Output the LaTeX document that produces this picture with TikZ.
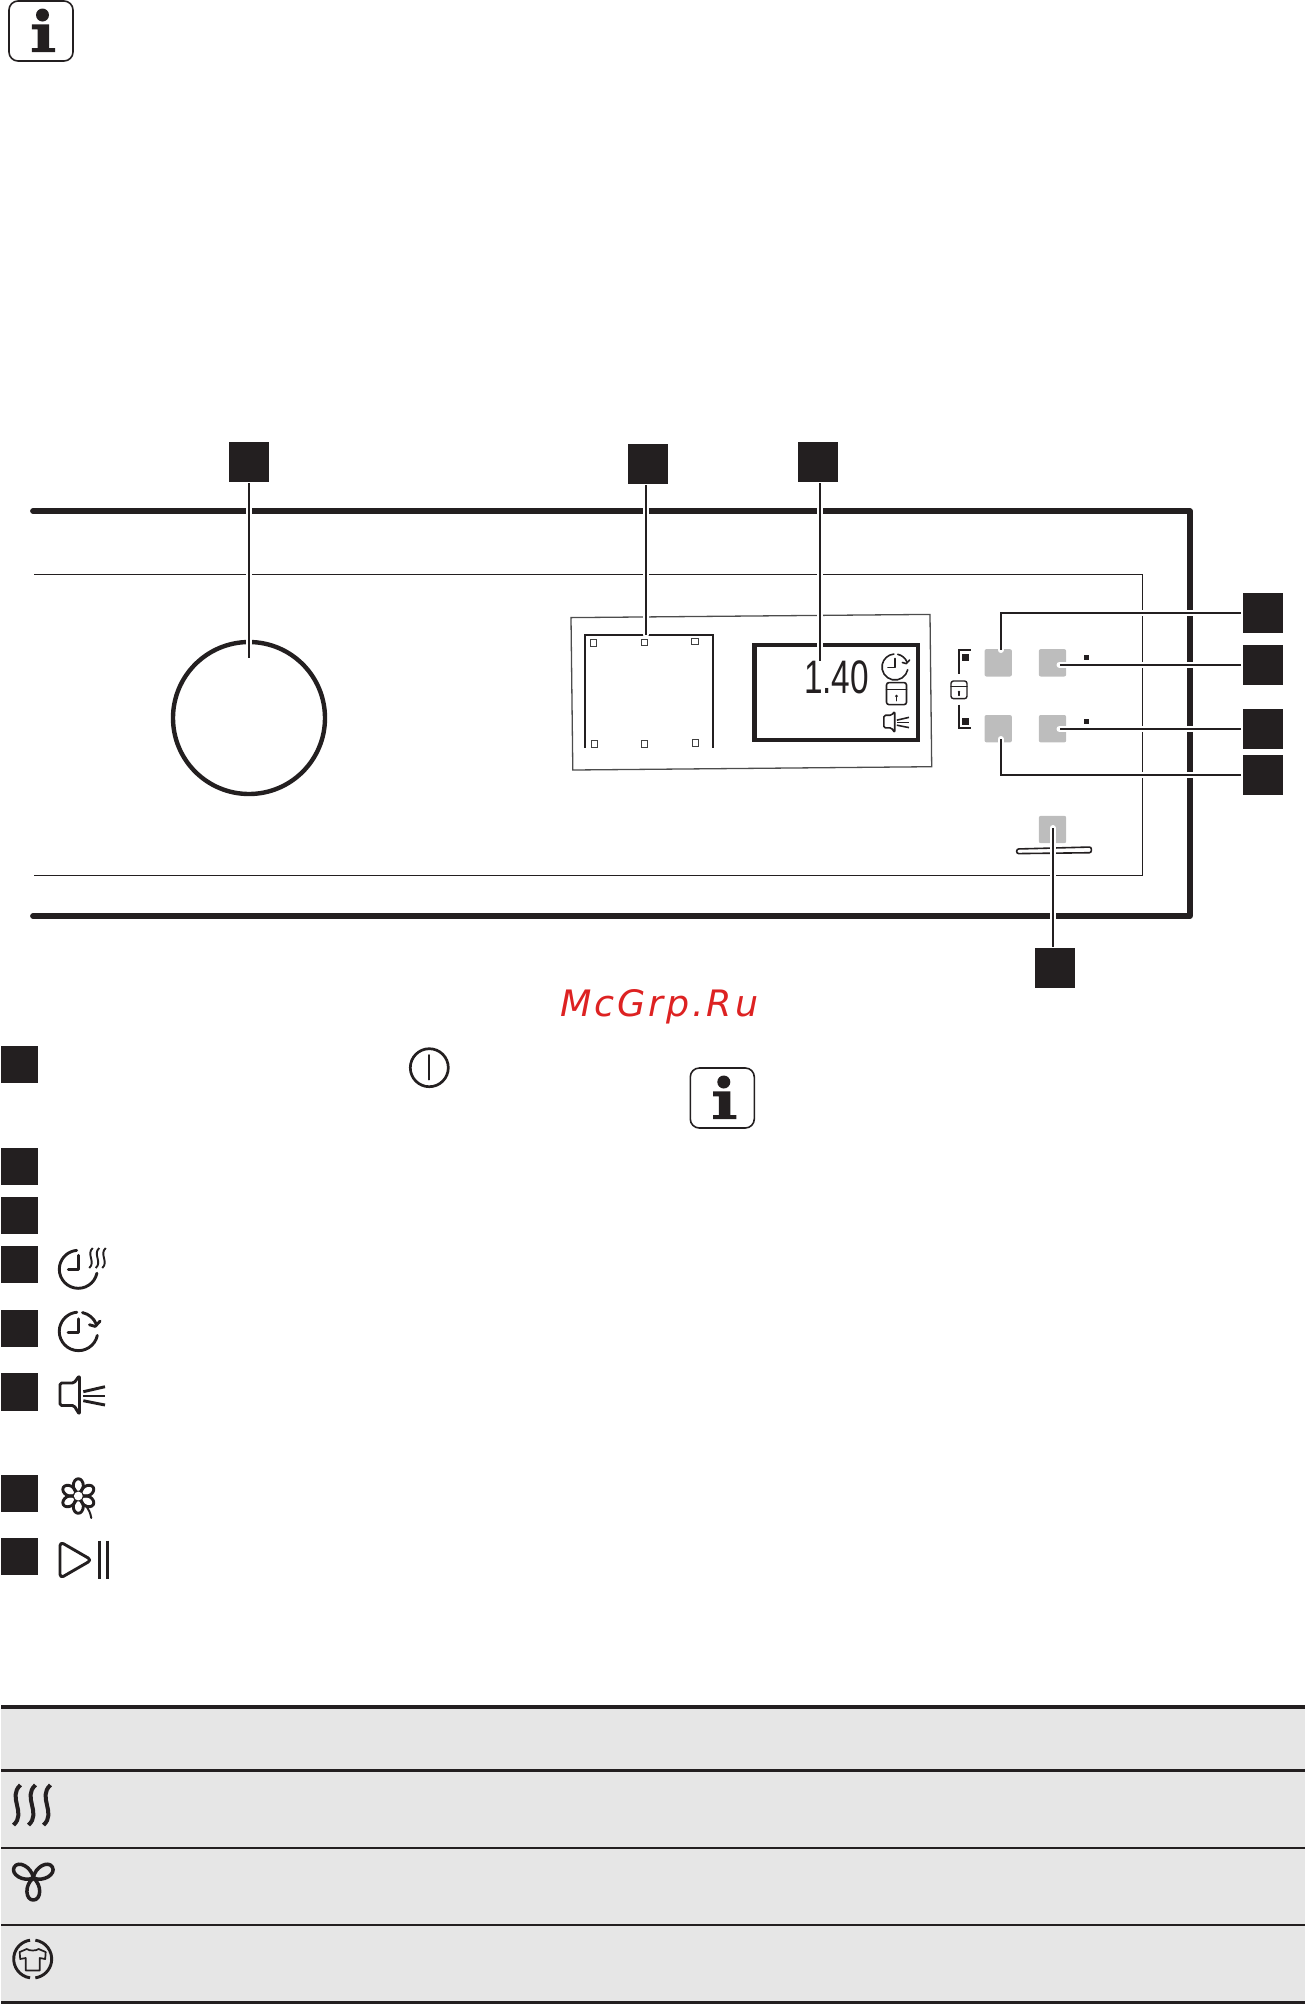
\documentclass[tikz,border=0pt]{standalone}
\usepackage{graphicx}
\usepackage{fontspec}
\newfontfamily\markfont[LetterSpace=8]{DejaVu Sans}
\newfontfamily\lcdfont{Liberation Sans}
\usetikzlibrary{positioning}
\definecolor{inkblack}{HTML}{231F20}
\definecolor{btngray}{HTML}{BDBDBD}
\definecolor{rowgray}{HTML}{E6E6E6}
\definecolor{markred}{HTML}{DD2222}
\tikzset{
  callout/.style={fill=inkblack, minimum size=20pt, inner sep=0pt},
  listbox/.style={fill=inkblack, minimum width=18.5pt, minimum height=18.6pt, inner sep=0pt},
  btn/.style={fill=btngray, minimum width=13.7pt, minimum height=13.7pt, inner sep=0pt, rounded corners=1pt},
  leader/.style={draw=inkblack, line width=1pt,
    preaction={draw=white, line width=3pt, line cap=round, shorten <=1.5pt}},
  iconline/.style={draw=inkblack, line cap=round, line join=round},
  infoicon/.pic={
    \draw[inkblack, line width=.8pt, rounded corners=4.5pt] (-32,-30) rectangle (32,30);
    \fill[inkblack] (1.5,-16) circle (6.5);
    \fill[inkblack] (-9.2,-6.7) -- (8,-6.7) -- (8,17) -- (14,17) -- (14,21) -- (-9.2,21) -- (-9.2,17) -- (-3.5,17) -- (-3.5,-1.7) -- (-9.2,-1.7) -- cycle;
  },
  lockicon/.pic={
    \draw[iconline, rounded corners=1.2] (-10,-11) rectangle (10,11);
    \draw[iconline] (-10,-4) -- (10,-4);
    \fill[inkblack] (0,2.5) circle (1.6);
    \draw[iconline] (0,2.5) -- (0,7);
  },
  clockicon/.pic={
    \draw[iconline] (12:13) arc[start angle=12, end angle=265, radius=13];
    \draw[iconline] (-78:13) arc[start angle=-78, end angle=-22, radius=13];
    \draw[iconline] (7.4,-4.5) -- (11.3,-3.4) -- (14.6,-7);
    \draw[iconline] (0,-8.5) -- (0,0.5) -- (-7,0.5);
  },
  speakericon/.pic={
    \draw[iconline, rounded corners=.8] (-20,-12) -- (-6,-12) -- (-.5,-19.5) -- (-.5,19.5) -- (-6,10.5) -- (-20,10.5) -- cycle;
    \draw[iconline, line cap=butt] (3.3,-3.3) -- (25,-8.3);
    \draw[iconline, line cap=butt] (3.3,1) -- (25,1);
    \draw[iconline, line cap=butt] (3.3,5.7) -- (25,10);
  },
  heatwave/.pic={
    \draw[iconline, line cap=butt] (3.5,-20) .. controls (-10,-8) and (10,8) .. (-3.5,20);
  }
}
\begin{document}
\begin{tikzpicture}[x=.5pt, y=-.5pt, >=latex, line width=1.45pt]
  \useasboundingbox (0,0) rectangle (1305,2004);
  \pic at (41,31) {infoicon};

  % panel
  \draw[inkblack, line width=2.9pt, line cap=round, line join=round] (33,511) -- (1189.7,511) -- (1189.7,916) -- (33,916);
  \draw[inkblack, line width=.65pt] (34,574.3) -- (1142.7,574.3) -- (1142.7,875.5) -- (34,875.5);
  \draw[inkblack, line width=2.2pt] (249,718) circle (76);

  % display
  \draw[black!70, line width=.65pt] (571,617.6) -- (930,614.4) -- (931.7,766.7) -- (572.8,770) -- cycle;
  \draw[inkblack, line width=1pt] (585,747.5) -- (585,634.7) -- (712.6,634.7) -- (712.6,747.5);
  \foreach \sx/\sy in {593.3/643, 644.2/642.4, 695/641.6, 594.3/744, 644.6/743.8, 695.5/743}
    \draw[black!75, line width=.5pt] (\sx-3.2,\sy-3.2) rectangle (\sx+3.2,\sy+3.2);
  \draw[inkblack, line width=2.4pt] (754.7,645) rectangle (918,740);
  \node[anchor=base east, inner sep=0pt, inkblack] (readout) at (870.5,693.5) {\scalebox{.71}[1]{\lcdfont\fontsize{23.5}{23.5}\selectfont 1.40}};
  \pic[line width=.8pt] at (895,667) {clockicon};
  \pic[line width=.8pt] at (896.5,693.6) {lockicon};
  \pic[scale=.56, line width=.8pt] at (895,722) {speakericon};

  % buttons
  \node[btn] (btnA) at (998.2,662.8) {};
  \node[btn] (btnB) at (1052.5,662.8) {};
  \node[btn] (btnC) at (998.2,728.7) {};
  \node[btn] (btnD) at (1052.5,728.7) {};
  \node[btn] (btnE) at (1052.5,829.5) {};
  \draw[iconline, line cap=butt, line join=miter, line width=1pt] (970.8,650.4) -- (958.6,650.4) -- (958.6,673.6);
  \draw[iconline, line cap=butt, line join=miter, line width=1pt] (958.6,704.5) -- (958.6,728) -- (970.8,728);
  \fill[inkblack] (962.2,654) rectangle (968.6,660.6);
  \fill[inkblack] (962.2,718.4) rectangle (968.6,725);
  \pic[scale=.8, line width=.7pt] at (959,689.8) {lockicon};
  \fill[inkblack] (1084,654.8) rectangle (1088.8,659.8);
  \fill[inkblack] (1084,718.8) rectangle (1088.8,723.8);
  \draw[inkblack, line width=.8pt, rounded corners=1pt] (1016.7,849) -- (1091.3,847) -- (1091.3,852.7) -- (1016.7,853.6) -- cycle;

  % callouts
  \node[callout] (calloutA) at (249,462) {};
  \node[callout] (calloutB) at (648,464) {};
  \node[callout] (calloutC) at (817.7,462) {};
  \node[callout] (calloutD) at (1262.5,613) {};
  \node[callout] (calloutE) at (1262.5,664.7) {};
  \node[callout] (calloutF) at (1262.5,729) {};
  \node[callout] (calloutG) at (1262.5,775) {};
  \node[callout] (calloutH) at (1054.7,968) {};
  \coordinate (tipA) at (249,658);
  \coordinate (tipB) at (645.6,634.7);
  \coordinate (tipC) at (819.7,661);
  \coordinate (tipD) at (1000.7,650);
  \coordinate (tipE) at (1059.5,664.7);
  \coordinate (tipF) at (1059.5,729);
  \coordinate (tipG) at (1000.7,739);
  \coordinate (tipH) at (1052.7,828);
  \draw[leader] (calloutA.south) -- (tipA);
  \draw[leader] (calloutB.south -| tipB) -- (tipB);
  \draw[leader] (calloutC.south -| tipC) -- (tipC);
  \draw[leader] (calloutD.west) -| (tipD);
  \draw[leader] (calloutE.west) -- (tipE);
  \draw[leader] (calloutF.west) -- (tipF);
  \draw[leader] (calloutG.west) -| (tipG);
  \draw[leader] (calloutH.north -| tipH) -- (tipH);

  \node[anchor=base west, inner sep=0pt, markred] (mark) at (558.7,1016.4) {\markfont\itshape\fontsize{18.2}{18.2}\selectfont McGrp.Ru};

  % legend
  \foreach \ly/\lname in {1064.4/listA, 1166.4/listB, 1215.4/listC, 1264.8/listD, 1328.4/listE, 1392/listF, 1493.3/listG, 1556.6/listH}
    \node[listbox] (\lname) at (19.8,\ly) {};
  \draw[iconline, line width=1.35pt] (429.3,1067.7) circle (19);
  \draw[iconline, line width=.85pt] (429.3,1055) -- (429.3,1079.6);
  \pic at (722.3,1098) {infoicon};

  \begin{scope}[shift={(78.3,1269.3)}]
    \draw[iconline] (12:19) arc[start angle=12, end angle=265, radius=19];
    \draw[iconline] (0,-14) -- (0,0) -- (-10,0);
  \end{scope}
  \foreach \wx in {91,97.5,104}
    \pic[scale=.5, line width=.95pt] at (\wx,1258) {heatwave};
  \pic[scale=1.48] at (78.5,1331.4) {clockicon};
  \pic at (80,1395) {speakericon};
  \begin{scope}[shift={(78.3,1496)}]
    \foreach \pa in {30,90,150,210,270,330}
      \draw[iconline, rotate=\pa] (10.5,0) ellipse (6.8 and 5);
    \fill[white] (0,0) circle (4.4);
    \draw[iconline, line width=1pt] (7,9) .. controls (11,14) and (12,17) .. (13,22);
  \end{scope}
  \draw[iconline, rounded corners=2] (60,1541.7) -- (91.7,1560) -- (60,1578.3) -- cycle;
  \draw[iconline, line cap=butt, line width=1.4pt] (99.3,1540.7) -- (99.3,1579.3);
  \draw[iconline, line cap=butt, line width=1.4pt] (107.3,1540.7) -- (107.3,1579.3);

  % table
  \fill[rowgray] (1,1707) rectangle (1305,2002);
  \draw[inkblack, line width=2pt] (1,1706.8) -- (1305,1706.8);
  \draw[inkblack, line width=1.5pt] (1,1770.3) -- (1305,1770.3);
  \draw[inkblack, line width=1.1pt] (1,1847.7) -- (1305,1847.7);
  \draw[inkblack, line width=1.1pt] (1,1924.7) -- (1305,1924.7);
  \draw[inkblack, line width=1.5pt] (1,2002.5) -- (1305,2002.5);
  \foreach \wx in {17,32,47}
    \pic[line width=2pt] at (\wx,1805) {heatwave};
  \begin{scope}[shift={(33.3,1878)}]
    \foreach \pa in {0,120,240}
      \draw[iconline, line width=1.75pt, rotate=\pa] (0,0) .. controls (9,7) and (8,22) .. (0,22) .. controls (-8,22) and (-9,7) .. (0,0);
  \end{scope}
  \begin{scope}[shift={(32.7,1959)}]
    \draw[iconline, line cap=butt] (-82:19) arc[start angle=-82, end angle=82, radius=19];
    \draw[iconline, line cap=butt] (98:19) arc[start angle=98, end angle=262, radius=19];
    \draw[iconline, line width=.85pt] (-6,-10) .. controls (-3,-8) and (3,-8) .. (6,-10) -- (13,-7) -- (12.5,0) -- (7,-1) -- (7,11.5) -- (-7,11.5) -- (-7,-1) -- (-12.5,0) -- (-13,-7) -- cycle;
  \end{scope}
\end{tikzpicture}
\end{document}
